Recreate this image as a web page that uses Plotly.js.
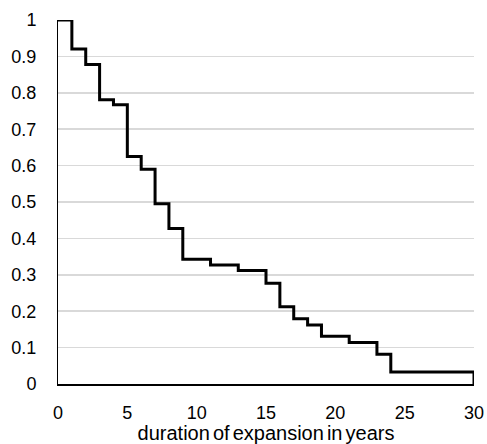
<!DOCTYPE html>
<html>
<head>
<meta charset="utf-8">
<script src="https://cdn.plot.ly/plotly-3.0.1.min.js"></script>
<style>
html,body{margin:0;padding:0;background:#fff;}
#chart{width:487px;height:444px;}
.xtitle{word-spacing:-2.5px;}
</style>
</head>
<body>
<div id="chart"></div>
<script>
// Duration of expansion (years) and surviving share
const years = [0, 1, 2, 3, 4, 5, 6, 7, 8, 9, 11, 13, 15, 16, 17, 18, 19, 21, 23, 24, 30];
const survival = [1, 0.92, 0.878, 0.781, 0.767, 0.625, 0.59, 0.495, 0.427, 0.343, 0.327, 0.312, 0.277, 0.212, 0.179, 0.162, 0.131, 0.114, 0.082, 0.033, 0];
const xTicks = [0, 5, 10, 15, 20, 25, 30];
const yTicks = [0, 0.1, 0.2, 0.3, 0.4, 0.5, 0.6, 0.7, 0.8, 0.9, 1];
const xTitle = "duration of expansion in years";

const font = "Liberation Sans, Arial, sans-serif";

Plotly.newPlot("chart", [{
  x: years,
  y: survival,
  type: "scatter",
  mode: "lines",
  line: {shape: "hv", color: "#000000", width: 3},
  hoverinfo: "skip"
}], {
  width: 487,
  height: 444,
  margin: {l: 58, r: 13, t: 20, b: 60},
  paper_bgcolor: "#ffffff",
  plot_bgcolor: "#ffffff",
  showlegend: false,
  font: {family: font, size: 18, color: "#000000"},
  xaxis: {
    range: [0, 30],
    tickvals: xTicks,
    ticktext: xTicks.map(String),
    showgrid: false,
    zeroline: false,
    showline: true,
    linecolor: "#000000",
    linewidth: 2,
    ticks: "",
    ticklabelstandoff: 11,
    title: {text: xTitle, font: {family: font, size: 20, color: "#000000"}, standoff: 5}
  },
  yaxis: {
    range: [0, 1],
    tickvals: yTicks,
    ticktext: yTicks.map(String),
    showgrid: true,
    gridcolor: "#d9d9d9",
    gridwidth: 1.5,
    zeroline: false,
    showline: true,
    linecolor: "#000000",
    linewidth: 1,
    ticks: "",
    ticklabelstandoff: 17
  }
}, {displayModeBar: false, staticPlot: true});
</script>
</body>
</html>
